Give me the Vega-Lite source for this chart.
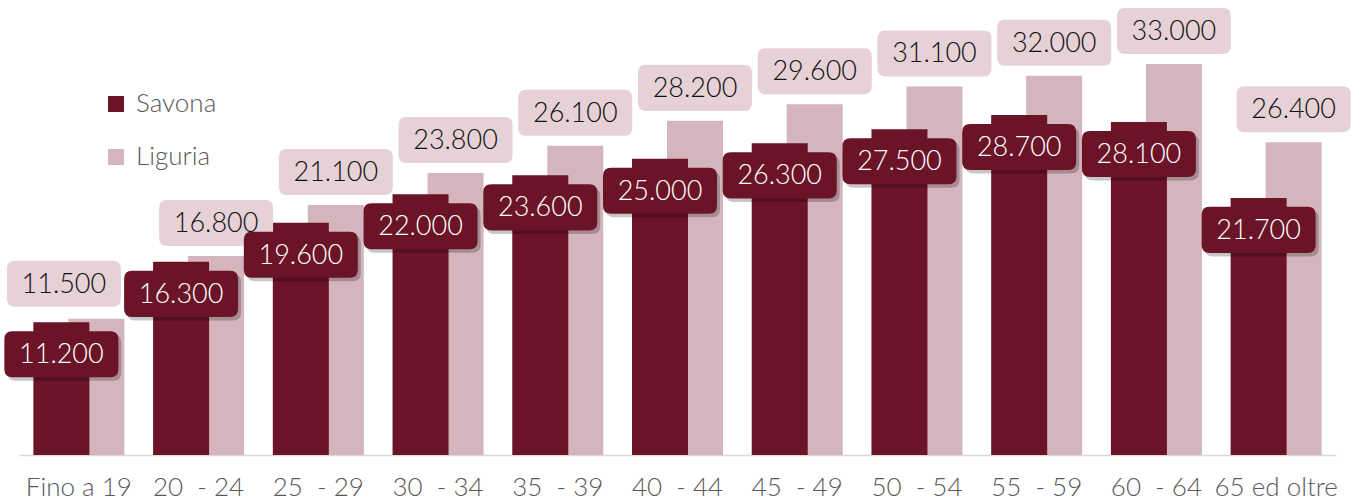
{
  "$schema": "https://vega.github.io/schema/vega-lite/v6.json",
  "width": 1317,
  "height": 455,
  "autosize": {"type": "none"},
  "padding": {"left": 19, "top": 0, "right": 25, "bottom": 47},
  "background": "#ffffff",
  "data": {
    "values": [
      {"cat": "Fino a 19", "serie": "Savona", "v": 11200},
      {"cat": "20\u00a0 - 24", "serie": "Savona", "v": 16300},
      {"cat": "25\u00a0 - 29", "serie": "Savona", "v": 19600},
      {"cat": "30\u00a0 - 34", "serie": "Savona", "v": 22000},
      {"cat": "35\u00a0 - 39", "serie": "Savona", "v": 23600},
      {"cat": "40\u00a0 - 44", "serie": "Savona", "v": 25000},
      {"cat": "45\u00a0 - 49", "serie": "Savona", "v": 26300},
      {"cat": "50\u00a0 - 54", "serie": "Savona", "v": 27500},
      {"cat": "55\u00a0 - 59", "serie": "Savona", "v": 28700},
      {"cat": "60\u00a0 - 64", "serie": "Savona", "v": 28100},
      {"cat": "65 ed oltre", "serie": "Savona", "v": 21700},
      {"cat": "Fino a 19", "serie": "Liguria", "v": 11500},
      {"cat": "20\u00a0 - 24", "serie": "Liguria", "v": 16800},
      {"cat": "25\u00a0 - 29", "serie": "Liguria", "v": 21100},
      {"cat": "30\u00a0 - 34", "serie": "Liguria", "v": 23800},
      {"cat": "35\u00a0 - 39", "serie": "Liguria", "v": 26100},
      {"cat": "40\u00a0 - 44", "serie": "Liguria", "v": 28200},
      {"cat": "45\u00a0 - 49", "serie": "Liguria", "v": 29600},
      {"cat": "50\u00a0 - 54", "serie": "Liguria", "v": 31100},
      {"cat": "55\u00a0 - 59", "serie": "Liguria", "v": 32000},
      {"cat": "60\u00a0 - 64", "serie": "Liguria", "v": 33000},
      {"cat": "65 ed oltre", "serie": "Liguria", "v": 26400}
    ]
  },
  "encoding": {
    "x": {
      "field": "cat",
      "type": "nominal",
      "sort": null,
      "scale": {"paddingInner": 0, "paddingOuter": 0},
      "axis": {
        "title": null,
        "labelAngle": 0,
        "labelFont": "Lato",
        "labelFontWeight": 300,
        "labelFontSize": 26,
        "labelColor": "#595959",
        "labelPadding": 19,
        "labelOverlap": false,
        "labelBound": false,
        "labelLimit": 300,
        "ticks": false,
        "domainColor": "#D9D9D9",
        "domainWidth": 1.5,
        "grid": false
      }
    },
    "y": {
      "field": "v",
      "type": "quantitative",
      "scale": {"domain": [0, 38400], "nice": false, "zero": true},
      "axis": null
    }
  },
  "layer": [
    {
      "transform": [{"filter": "datum.serie === 'Liguria'"}],
      "mark": {"type": "bar", "width": 56, "xOffset": 17.5},
      "encoding": {
        "color": {
          "field": "serie",
          "type": "nominal",
          "scale": {"domain": ["Savona", "Liguria"], "range": ["#6B1428", "#D4B4BD"]},
          "legend": {
            "title": null,
            "orient": "none",
            "legendX": 84,
            "legendY": 91,
            "symbolType": "square",
            "symbolSize": 256,
            "symbolStrokeWidth": 0,
            "labelFont": "Lato",
            "labelFontWeight": 300,
            "labelFontSize": 26,
            "labelColor": "#595959",
            "labelOffset": 7,
            "rowPadding": 27
          }
        }
      }
    },
    {
      "transform": [{"filter": "datum.serie === 'Savona'"}],
      "mark": {"type": "bar", "width": 56, "xOffset": -17.5},
      "encoding": {
        "color": {"field": "serie", "type": "nominal"}
      }
    },
    {
      "transform": [{"filter": "datum.serie === 'Liguria' && datum.cat !== 'Fino a 19'"}],
      "mark": {"type": "point", "filled": true, "opacity": 1, "strokeWidth": 0, "fill": "#E6D2D6", "size": 12996, "xOffset": 17.5, "yOffset": -33,
        "shape": "M-0.86,-0.404 L0.86,-0.404 Q1,-0.404 1,-0.264 L1,0.264 Q1,0.404 0.86,0.404 L-0.86,0.404 Q-1,0.404 -1,0.264 L-1,-0.264 Q-1,-0.404 -0.86,-0.404 Z"}
    },
    {
      "transform": [{"filter": "datum.serie === 'Liguria' && datum.cat === 'Fino a 19'"}],
      "mark": {"type": "point", "filled": true, "opacity": 1, "strokeWidth": 0, "fill": "#E6D2D6", "size": 12996, "xOffset": -15, "yOffset": -35,
        "shape": "M-0.86,-0.404 L0.86,-0.404 Q1,-0.404 1,-0.264 L1,0.264 Q1,0.404 0.86,0.404 L-0.86,0.404 Q-1,0.404 -1,0.264 L-1,-0.264 Q-1,-0.404 -0.86,-0.404 Z"}
    },
    {
      "transform": [{"filter": "datum.serie === 'Liguria' && datum.cat !== 'Fino a 19'"}],
      "mark": {"type": "text", "font": "Lato", "fontWeight": 300, "fontSize": 27, "color": "#111111", "baseline": "middle", "align": "center", "xOffset": 17.5, "yOffset": -32},
      "encoding": {"text": {"field": "v", "type": "quantitative", "format": ",.0f"}}
    },
    {
      "transform": [{"filter": "datum.serie === 'Liguria' && datum.cat === 'Fino a 19'"}],
      "mark": {"type": "text", "font": "Lato", "fontWeight": 300, "fontSize": 27, "color": "#111111", "baseline": "middle", "align": "center", "xOffset": -15, "yOffset": -34},
      "encoding": {"text": {"field": "v", "type": "quantitative", "format": ",.0f"}}
    },
    {
      "transform": [{"filter": "datum.serie === 'Savona'"}],
      "mark": {"type": "point", "filled": true, "opacity": 0.22, "strokeWidth": 0, "fill": "#000000", "size": 12996, "xOffset": -14.5, "yOffset": 35.5,
        "shape": "M-0.86,-0.404 L0.86,-0.404 Q1,-0.404 1,-0.264 L1,0.264 Q1,0.404 0.86,0.404 L-0.86,0.404 Q-1,0.404 -1,0.264 L-1,-0.264 Q-1,-0.404 -0.86,-0.404 Z"}
    },
    {
      "transform": [{"filter": "datum.serie === 'Savona'"}],
      "mark": {"type": "point", "filled": true, "opacity": 1, "strokeWidth": 0, "fill": "#6B1428", "size": 12996, "xOffset": -17.5, "yOffset": 32,
        "shape": "M-0.86,-0.404 L0.86,-0.404 Q1,-0.404 1,-0.264 L1,0.264 Q1,0.404 0.86,0.404 L-0.86,0.404 Q-1,0.404 -1,0.264 L-1,-0.264 Q-1,-0.404 -0.86,-0.404 Z"}
    },
    {
      "transform": [{"filter": "datum.serie === 'Savona'"}],
      "mark": {"type": "text", "font": "Lato", "fontWeight": 300, "fontSize": 27, "color": "#FFFFFF", "baseline": "middle", "align": "center", "xOffset": -17.5, "yOffset": 33},
      "encoding": {"text": {"field": "v", "type": "quantitative", "format": ",.0f"}}
    }
  ],
  "config": {
    "view": {"stroke": null},
    "locale": {"number": {"decimal": ",", "thousands": ".", "grouping": [3], "currency": ["", " €"]}}
  }
}
